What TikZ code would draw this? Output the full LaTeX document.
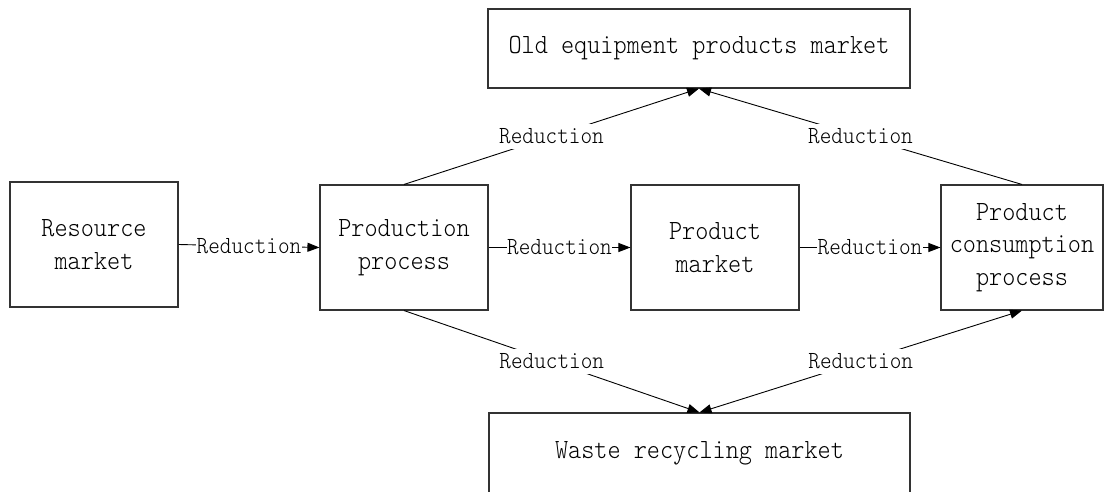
\documentclass[tikz,border=0pt]{standalone}
\usepackage{fontspec}
\usetikzlibrary{arrows.meta}
\newfontfamily\diagfont{Latin Modern Mono Light}[FakeStretch=0.9]
\begin{document}
\begin{tikzpicture}[x=1pt,y=-1pt,
  box/.style={draw=black!80, line width=1.1pt, align=center, inner sep=0pt,
    font=\diagfont\fontsize{27.8}{32.5}\selectfont},
  lab/.style={fill=white, inner xsep=0.5pt, inner ysep=5pt,
    font=\diagfont\fontsize{24.6}{28}\selectfont},
  arr/.style={line width=0.9pt, -{Triangle[length=12pt,width=9pt]}},
  biarr/.style={line width=0.9pt, {Triangle[length=12pt,width=9pt]}-{Triangle[length=12pt,width=9pt]}},
  ]
\useasboundingbox (0,0) rectangle (1104,491);
\clip (0,0) rectangle (1104,491);

% market and process boxes
\node[box, minimum width=168pt, minimum height=125pt] (res)  at (94,244.5)   {Resource\\market};
\node[box, minimum width=168pt, minimum height=125pt] (prod) at (404,247.5)  {Production\\process};
\node[box, minimum width=168pt, minimum height=125pt] (pm)   at (715,247.5)  {Product\\market};
\node[box, minimum width=162pt, minimum height=125pt] (cons) at (1022,247.5) {Product\\consumption\\process};
\node[box, minimum width=422pt, minimum height=79pt]  (old)  at (699,48.5)   {Old equipment products market};
\node[box, minimum width=421pt, minimum height=80pt]  (waste) at (699.5,453) {Waste recycling market};

% main chain
\draw[arr] (res.east)  -- node[lab]{Reduction} (prod.west);
\draw[arr] (prod.east) -- node[lab]{Reduction} (pm.west);
\draw[arr] (pm.east)   -- node[lab]{Reduction} (cons.west);

% links to the old equipment market
\draw[arr] (prod.north) -- node[lab]{Reduction} (old.south);
\draw[arr] (cons.north) -- node[lab]{Reduction} (old.south);

% links to the waste recycling market
\draw[arr]   (prod.south) -- node[lab]{Reduction} (waste.north);
\draw[biarr] (waste.north) -- node[lab]{Reduction} (cons.south);
\end{tikzpicture}
\end{document}
